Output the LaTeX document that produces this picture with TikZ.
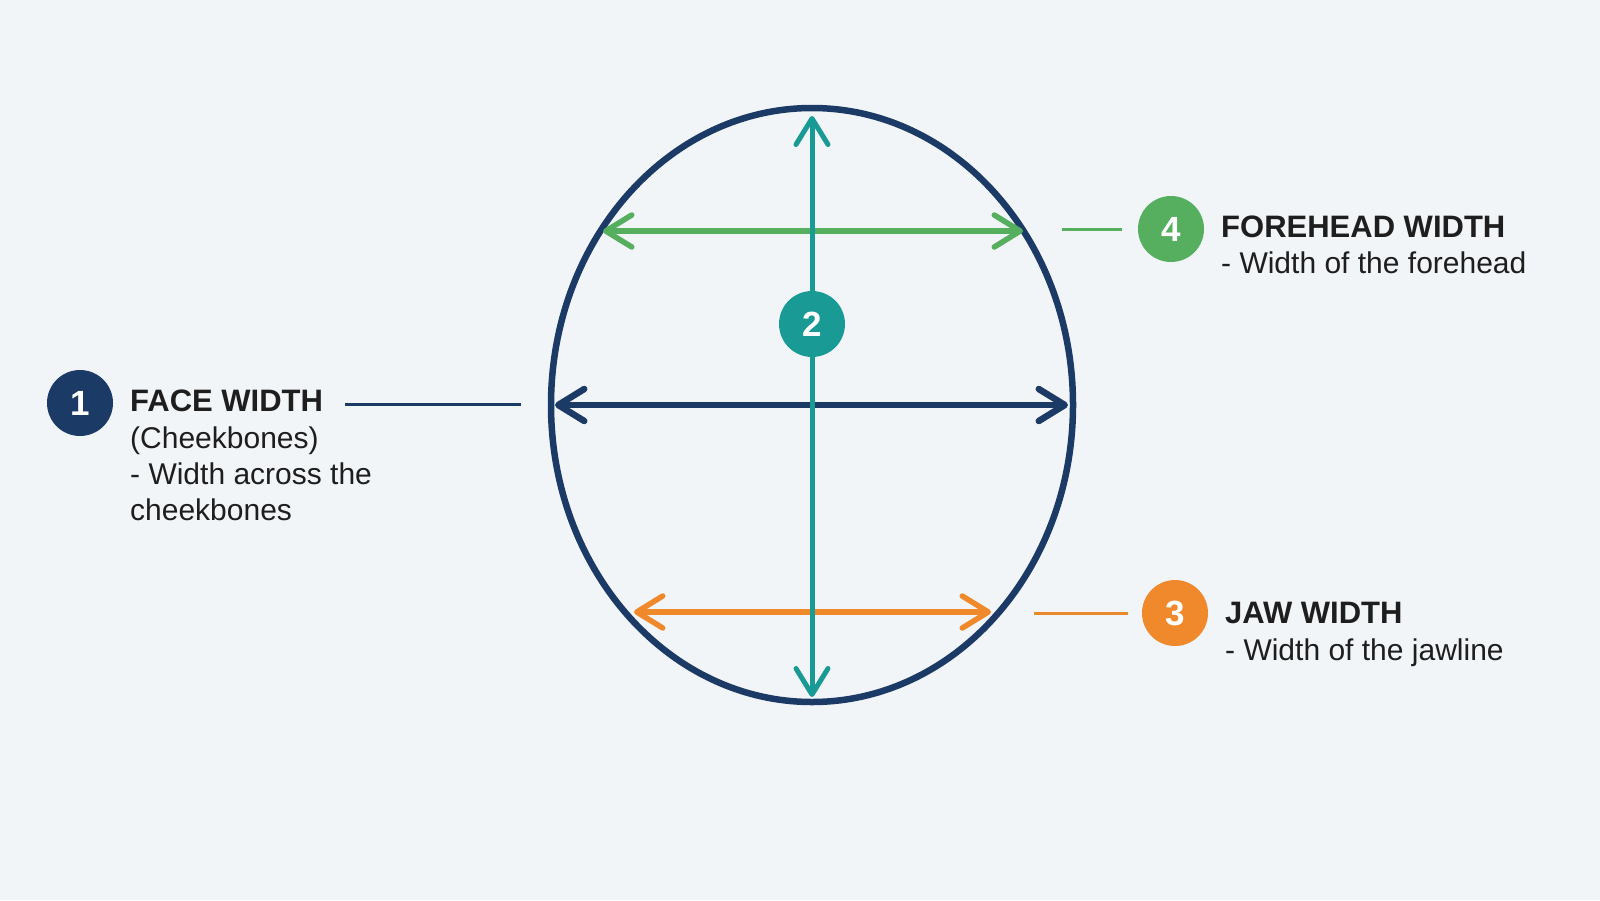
\documentclass[tikz,border=0pt]{standalone}
\usepackage{fontspec}
\setmainfont{Liberation Sans}
\usetikzlibrary{arrows.meta,shapes.geometric}
\definecolor{bgc}{HTML}{F2F5F8}
\definecolor{navy}{HTML}{1B3A66}
\definecolor{tealc}{HTML}{1A9A94}
\definecolor{greenc}{HTML}{56AE5F}
\definecolor{orangec}{HTML}{F0892C}
\definecolor{txt}{HTML}{1E1E1E}
\tikzset{
  barb/.style={line cap=round,{Straight Barb[length=26pt,width=32pt,line cap=round,line join=round]}-{Straight Barb[length=26pt,width=32pt,line cap=round,line join=round]}},
  badge/.style={circle,minimum size=66pt,inner sep=0pt,fill=#1,text=white,font=\fontsize{35}{40}\selectfont\bfseries},
  ttl/.style={anchor=base west,inner sep=0pt,text=txt,font=\fontsize{31}{36}\selectfont\bfseries},
  sub/.style={anchor=base west,inner sep=0pt,text=txt,font=\fontsize{30}{36}\selectfont},
  lead/.style={line width=3pt,#1}
}
\begin{document}
\begin{tikzpicture}[x=1pt,y=-1pt]
\fill[bgc] (0,0) rectangle (1600,900);
\useasboundingbox (0,0) rectangle (1600,900);
% face outline
\node[ellipse,draw=navy,line width=6.5pt,minimum width=522pt,minimum height=594pt,inner sep=0pt] (face) at (812,405) {};
% measurement end points
\coordinate (gL) at (603,231); \coordinate (gR) at (1023,231);
\coordinate (nL) at (555,405); \coordinate (nR) at (1068,405);
\coordinate (oL) at (634,612); \coordinate (oR) at (991,612);
\coordinate (tT) at (812,116); \coordinate (tB) at (812,697);
\draw[barb,greenc,line width=5.5pt] (gL) -- (gR);
\draw[barb,navy,line width=6.5pt] (nL) -- (nR);
\draw[barb,orangec,line width=5.5pt] (oL) -- (oR);
\draw[barb,tealc,line width=5pt] (tT) -- (tB);
\node[badge=tealc] (b2) at (812,324) {2};
% label 1
\node[badge=navy] (b1) at (80,403) {1};
\node[ttl] (t1) at (130,411) {FACE WIDTH};
\node[sub] (t1a) at (130,448) {(Cheekbones)};
\node[sub] (t1b) at (130,484) {- Width across the};
\node[sub] (t1c) at (130,520) {cheekbones};
\coordinate (l1a) at (345,404); \coordinate (l1b) at (521,404);
\draw[lead=navy] (l1a) -- (l1b);
% label 4
\node[badge=greenc] (b4) at (1171,229) {4};
\node[ttl] (t4) at (1221,237) {FOREHEAD WIDTH};
\node[sub] (t4a) at (1221,273) {- Width of the forehead};
\coordinate (l4a) at (1062,229); \coordinate (l4b) at (1122,229);
\draw[lead=greenc] (l4a) -- (l4b);
% label 3
\node[badge=orangec] (b3) at (1175,613) {3};
\node[ttl] (t3) at (1225,623) {JAW WIDTH};
\node[sub] (t3a) at (1225,660) {- Width of the jawline};
\coordinate (l3a) at (1034,613); \coordinate (l3b) at (1128,613);
\draw[lead=orangec!85!brown] (l3a) -- (l3b);
\end{tikzpicture}
\end{document}
